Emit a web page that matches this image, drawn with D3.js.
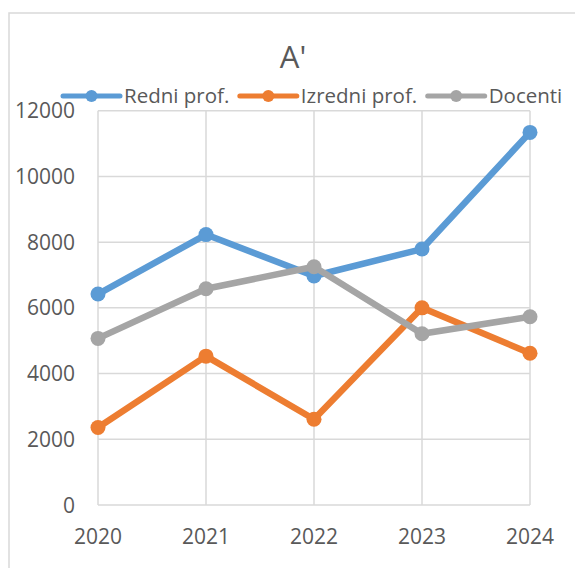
<!DOCTYPE html>
<html>
<head>
<meta charset="utf-8">
<script src="https://cdn.jsdelivr.net/npm/d3@7"></script>
<style>
  body { margin: 0; background: #fff; }
  text { font-family: "Open Sans", sans-serif; fill: #595959; }
</style>
</head>
<body>
<div id="chart"></div>
<script>
// data
const years = ["2020", "2021", "2022", "2023", "2024"];
const redniProf = [6420, 8230, 6970, 7790, 11340];
const izredniProf = [2360, 4530, 2610, 6000, 4620];
const docenti = [5070, 6580, 7250, 5210, 5730];
const yTicks = [0, 2000, 4000, 6000, 8000, 10000, 12000];
const chartTitle = "A'";

const series = [
  { name: "Redni prof.", values: redniProf, color: "#5B9BD5" },
  { name: "Izredni prof.", values: izredniProf, color: "#ED7D31" },
  { name: "Docenti", values: docenti, color: "#A5A5A5" }
];

const width = 575, height = 568;
const plot = { left: 98, right: 530, top: 110.7, bottom: 505 };

const svg = d3.select("#chart").append("svg")
  .attr("width", width)
  .attr("height", height);

// outer chart border
svg.append("rect")
  .attr("x", 9).attr("y", 13)
  .attr("width", 600).attr("height", 600)
  .attr("fill", "none")
  .attr("stroke", "#d9d9d9")
  .attr("stroke-width", 1.5);

const x = d3.scalePoint()
  .domain(years)
  .range([plot.left, plot.right]);

const y = d3.scaleLinear()
  .domain([0, 12000])
  .range([plot.bottom, plot.top]);

// horizontal gridlines
svg.append("g")
  .selectAll("line")
  .data(yTicks)
  .enter().append("line")
  .attr("x1", plot.left).attr("x2", plot.right)
  .attr("y1", d => y(d)).attr("y2", d => y(d))
  .attr("stroke", "#d9d9d9")
  .attr("stroke-width", 1.5);

// vertical gridlines
svg.append("g")
  .selectAll("line")
  .data(years)
  .enter().append("line")
  .attr("x1", d => x(d)).attr("x2", d => x(d))
  .attr("y1", plot.top).attr("y2", plot.bottom)
  .attr("stroke", "#d9d9d9")
  .attr("stroke-width", 1.5);

// y tick labels
svg.append("g")
  .attr("text-anchor", "end")
  .selectAll("text")
  .data(yTicks)
  .enter().append("text")
  .attr("x", 75)
  .attr("y", d => y(d))
  .attr("dy", "0.36em")
  .style("font-size", "21px")
  .text(d => d);

// x tick labels
svg.append("g")
  .attr("text-anchor", "middle")
  .selectAll("text")
  .data(years)
  .enter().append("text")
  .attr("x", d => x(d))
  .attr("y", 544)
  .style("font-size", "21px")
  .text(d => d);

// title
svg.append("text")
  .attr("x", 293)
  .attr("y", 68)
  .attr("text-anchor", "middle")
  .style("font-size", "31px")
  .text(chartTitle);

// lines and markers
const line = d3.line()
  .x((d, i) => x(years[i]))
  .y(d => y(d));

series.forEach(s => {
  const g = svg.append("g");
  g.append("path")
    .datum(s.values)
    .attr("d", line)
    .attr("fill", "none")
    .attr("stroke", s.color)
    .attr("stroke-width", 6.5)
    .attr("stroke-linejoin", "round")
    .attr("stroke-linecap", "round");
  g.selectAll("circle")
    .data(s.values)
    .enter().append("circle")
    .attr("cx", (d, i) => x(years[i]))
    .attr("cy", d => y(d))
    .attr("r", 7.5)
    .attr("fill", s.color);
});

// legend
const legend = svg.append("g");
let lx = 63;
const ly = 96;
series.forEach(s => {
  const item = legend.append("g");
  item.append("line")
    .attr("x1", lx).attr("x2", lx + 57)
    .attr("y1", ly).attr("y2", ly)
    .attr("stroke", s.color)
    .attr("stroke-width", 5)
    .attr("stroke-linecap", "round");
  item.append("circle")
    .attr("cx", lx + 28.5).attr("cy", ly)
    .attr("r", 6)
    .attr("fill", s.color);
  const t = item.append("text")
    .attr("x", lx + 61)
    .attr("y", ly + 7)
    .style("font-size", "20.5px")
    .text(s.name);
  lx += 61 + t.node().getComputedTextLength() + 10.5;
});
</script>
</body>
</html>
